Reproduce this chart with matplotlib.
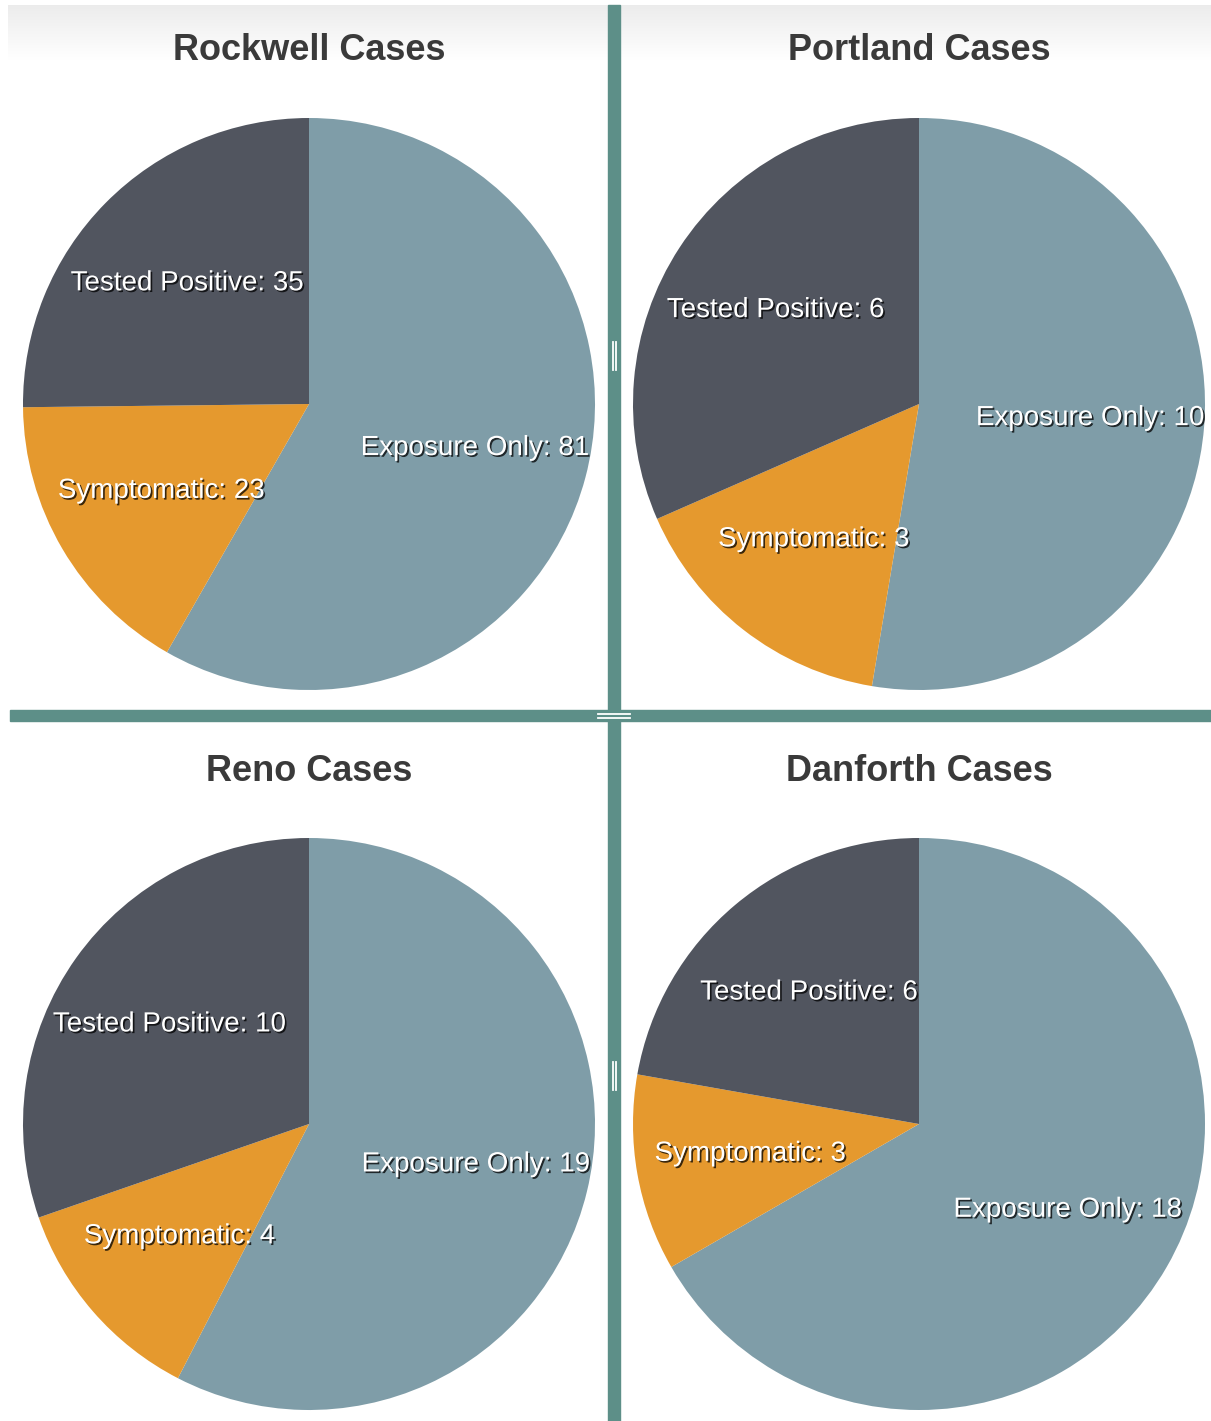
import numpy as np
import matplotlib
matplotlib.use("Agg")
import matplotlib.pyplot as plt
import matplotlib.patheffects as pe
from matplotlib.patches import Rectangle

# ---- data ----
sites = ["Rockwell", "Portland", "Reno", "Danforth"]
categories = ["Exposure Only", "Symptomatic", "Tested Positive"]
exposure_only = [81, 10, 19, 18]
symptomatic = [23, 3, 4, 3]
tested_positive = [35, 6, 10, 6]

colors = ["#7f9da8", "#e5992e", "#51555f"]

W, H = 1211, 1421
fig = plt.figure(figsize=(W / 100, H / 100), dpi=100)
fig.patch.set_facecolor("white")

# background gradient at top
bg = fig.add_axes([0, 0, 1, 1], zorder=-10)
bg.set_xlim(0, W); bg.set_ylim(H, 0); bg.axis("off")
grad = np.linspace(0, 1, 60)[:, None]
vals = 0.925 + 0.075 * grad
img = np.dstack([vals, vals, vals])
bg.imshow(img, extent=[8, W, 60, 5], aspect="auto", zorder=0)

# dividers
div_col = "#5d8f88"
bg.add_patch(Rectangle((608, 5), 12, H - 5, color=div_col, zorder=1))
bg.add_patch(Rectangle((10, 710), W - 10, 11, color=div_col, zorder=1))
# grip marks
for xx in (612.5, 616):
    bg.plot([xx, xx], [342, 370], color="white", lw=1.3, zorder=2)
    bg.plot([xx, xx], [1062, 1090], color="white", lw=1.3, zorder=2)
for yy in (714, 717.5):
    bg.plot([598, 630], [yy, yy], color="white", lw=1.3, zorder=3)

centers = [(309, 404), (919, 404), (309, 1124), (919, 1124)]
R = 286
title_y = [51, 51, 771, 771]

shadow = [pe.SimplePatchShadow(offset=(1.2, -1.2), shadow_rgbFace="black", alpha=0.75),
          pe.Normal()]

for i, site in enumerate(sites):
    cx, cy = centers[i]
    ax = fig.add_axes([(cx - R) / W, 1 - (cy + R) / H, 2 * R / W, 2 * R / H])
    vals_i = [exposure_only[i], symptomatic[i], tested_positive[i]]
    wedges, _ = ax.pie(vals_i, colors=colors, startangle=90, counterclock=False,
                       radius=1, wedgeprops=dict(linewidth=0))
    ax.set_xlim(-1, 1); ax.set_ylim(-1, 1); ax.set_aspect("equal"); ax.axis("off")
    for w, cat, v in zip(wedges, categories, vals_i):
        ang = np.deg2rad((w.theta1 + w.theta2) / 2)
        x, y = 0.6 * np.cos(ang), 0.6 * np.sin(ang)
        ax.text(x, y, f"{cat}: {v}", ha="center", va="center", color="white",
                fontsize=20, family="Liberation Sans", path_effects=shadow)
    fig.text(cx / W, 1 - title_y[i] / H, f"{site} Cases", ha="center", va="center",
             fontsize=26, fontweight="bold", color="#3a3a3a", family="Liberation Sans")

fig.savefig("out.png", dpi=100)
